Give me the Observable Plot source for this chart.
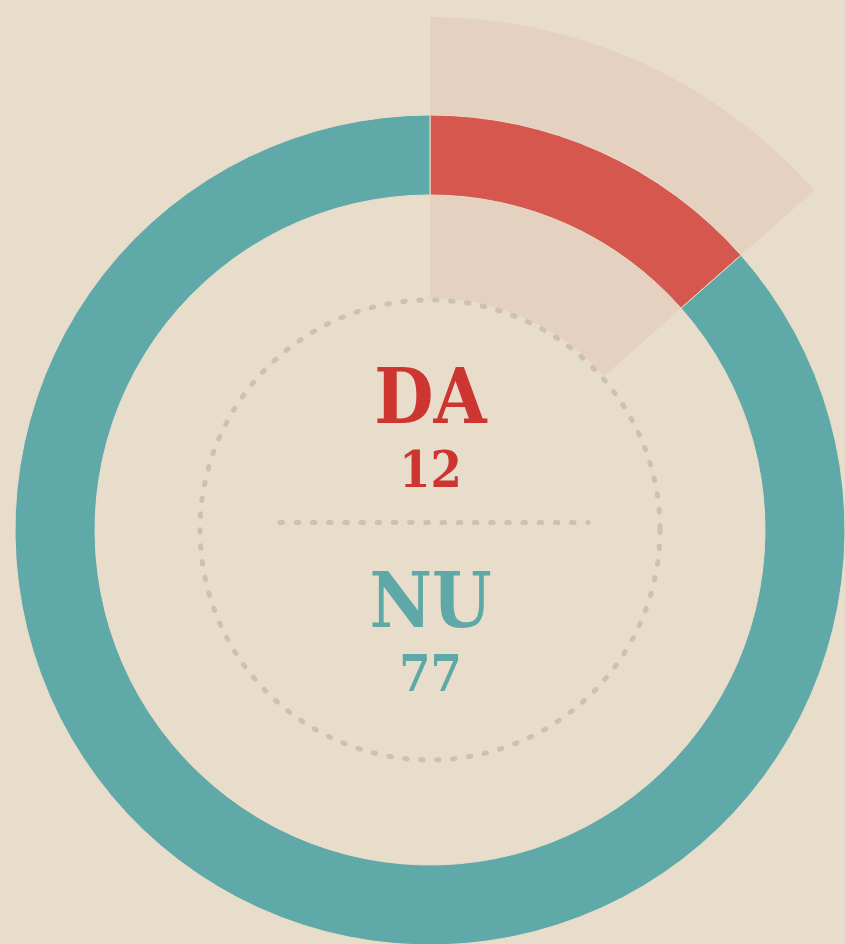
<!DOCTYPE html>
<html>
<head>
<meta charset="utf-8">
<script src="https://cdn.jsdelivr.net/npm/d3@7"></script>
<script src="https://cdn.jsdelivr.net/npm/@observablehq/plot@0.6"></script>
<style>
  html, body { margin: 0; padding: 0; background: #e8ddcb; }
  #chart svg { display: block; }
  #chart svg text { font-stretch: condensed; }
</style>
</head>
<body>
<div id="chart"></div>
<script>
// Data
const categories = ["DA", "NU"];
const values = [12, 77];
const sliceColors = ["#d5574d", "#60a9a9"];
const labelColors = ["#cd3530", "#5fa8a8"];
const highlighted = "DA";

const data = categories.map((c, i) => ({category: c, value: values[i]}));
const pie = d3.pie().value(d => d.value).sort(null)(data);

// design units (pixels around the centre)
const R_OUT = 415, R_IN = 335;
const HL_IN = 232, HL_OUT = 513;
const DOT_R = 230;

function arcsMark(index, scales, values_, dimensions) {
  const cx = scales.x(0), cy = scales.y(0);
  const k = scales.x(1) - scales.x(0);
  const g = d3.create("svg:g").attr("transform", `translate(${cx},${cy})`);
  const hl = pie.find(p => p.data.category === highlighted);
  // highlight wedge
  g.append("path")
    .attr("d", d3.arc()({innerRadius: HL_IN * k, outerRadius: HL_OUT * k, startAngle: hl.startAngle, endAngle: hl.endAngle}))
    .attr("fill", "#e5d1bf");
  // donut slices
  g.selectAll("path.slice").data(pie).join("path")
    .attr("class", "slice")
    .attr("d", d3.arc().innerRadius(R_IN * k).outerRadius(R_OUT * k))
    .attr("fill", (d, i) => sliceColors[i])
    .attr("stroke", "#e8ddcb")
    .attr("stroke-width", 1);
  // dotted circle
  g.append("circle")
    .attr("r", DOT_R * k)
    .attr("fill", "none")
    .attr("stroke", "#cdc3ab")
    .attr("stroke-width", 5)
    .attr("stroke-linecap", "round")
    .attr("stroke-dasharray", "2.5 13.5");
  return g.node();
}

const chart = Plot.plot({
  width: 845,
  height: 944,
  margin: 0,
  style: {background: "#e8ddcb", overflow: "visible"},
  x: {domain: [-430, 415], axis: null},
  y: {domain: [-414, 530], axis: null},
  marks: [
    arcsMark,
    Plot.ruleY([8], {x1: -150, x2: 158, stroke: "#cdc3ab", strokeWidth: 5, strokeLinecap: "round", strokeDasharray: "2.5 13.7"}),
    Plot.text(data, {
      x: () => 0,
      y: (d, i) => [108, -96][i],
      text: "category",
      fill: (d, i) => labelColors[i],
      lineAnchor: "bottom",
      fontSize: 76,
      fontWeight: "bold",
      fontFamily: "DejaVu Serif Condensed, DejaVu Serif"
    }),
    Plot.text(data, {
      x: () => 0,
      y: (d, i) => [44, -160][i],
      text: d => String(d.value),
      fill: (d, i) => labelColors[i],
      lineAnchor: "bottom",
      fontSize: 50,
      fontWeight: "bold",
      fontFamily: "DejaVu Serif Condensed, DejaVu Serif"
    })
  ]
});
document.getElementById("chart").append(chart);
</script>
</body>
</html>
